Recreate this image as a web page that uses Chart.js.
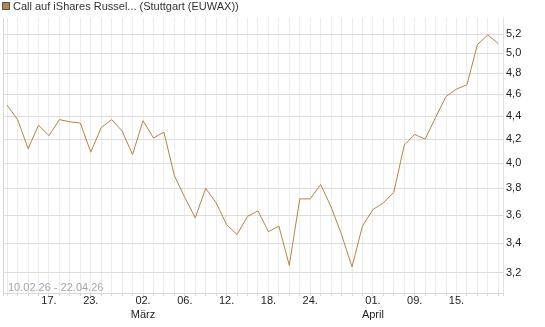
<!DOCTYPE html>
<html>
<head>
    <meta charset="UTF-8">
    <title>Call auf iShares Russel...</title>
    <script src="https://cdn.jsdelivr.net/npm/chart.js"></script>
    <style>
        body {
            margin: 0;
            background-color: #ffffff;
        }

        #chart-container {
            width: 545px;
            height: 327px;
        }
    </style>
</head>
<body>
<div id="chart-container">
    <canvas id="priceChart"></canvas>
</div>

<script>
        const chartTitle = 'Call auf iShares Russel... (Stuttgart (EUWAX))';
        const rangeText = '10.02.26 - 22.04.26';

        // Handelstage (Stuttgart, ohne Karfreitag / Ostermontag)
        const dates = [
            '11.02.', '12.02.', '13.02.', '16.02.', '17.02.', '18.02.', '19.02.', '20.02.',
            '23.02.', '24.02.', '25.02.', '26.02.', '27.02.', '02.03.', '03.03.', '04.03.',
            '05.03.', '06.03.', '09.03.', '10.03.', '11.03.', '12.03.', '13.03.', '16.03.',
            '17.03.', '18.03.', '19.03.', '20.03.', '23.03.', '24.03.', '25.03.', '26.03.',
            '27.03.', '30.03.', '31.03.', '01.04.', '02.04.', '07.04.', '08.04.', '09.04.',
            '10.04.', '13.04.', '14.04.', '15.04.', '16.04.', '17.04.', '20.04.', '21.04.'
        ];

        const prices = [
            4.50, 4.37, 4.12, 4.32, 4.23, 4.37, 4.35, 4.34,
            4.09, 4.30, 4.37, 4.27, 4.07, 4.36, 4.21, 4.26,
            3.90, 3.73, 3.58, 3.80, 3.69, 3.53, 3.46, 3.59,
            3.63, 3.48, 3.52, 3.25, 3.72, 3.72, 3.83, 3.66,
            3.46, 3.24, 3.52, 3.64, 3.69, 3.77, 4.15, 4.24,
            4.20, 4.39, 4.58, 4.65, 4.69, 5.09, 5.19, 5.10
        ];

        const labelledDates = ['17.02.', '23.02.', '02.03.', '06.03.', '12.03.', '18.03.', '24.03.', '01.04.', '09.04.', '15.04.'];
        const monthNames = { '03': 'März', '04': 'April' };
        const yTicks = [3.2, 3.4, 3.6, 3.8, 4.0, 4.2, 4.4, 4.6, 4.8, 5.0, 5.2];

        const lineColor = '#b5853f';
        const xMin = -0.4;
        const xMax = dates.length - 1 + 0.45;

        const headerPlugin = {
            id: 'header',
            beforeDatasetsDraw(chart) {
                const ctx = chart.ctx;
                const area = chart.chartArea;
                ctx.save();
                ctx.font = '11px "Liberation Sans", Arial, sans-serif';
                ctx.fillStyle = '#a2a7b0';
                ctx.textBaseline = 'alphabetic';
                ctx.fillText(rangeText, area.left + 5, area.bottom - 2);
                ctx.restore();
            },
            afterDraw(chart) {
                const ctx = chart.ctx;
                ctx.save();
                ctx.fillStyle = '#b38848';
                ctx.fillRect(2, 2, 8, 8);
                ctx.strokeStyle = '#555555';
                ctx.lineWidth = 1;
                ctx.strokeRect(2.5, 2.5, 7, 7);
                ctx.font = '11px "Liberation Sans", Arial, sans-serif';
                ctx.fillStyle = '#333333';
                ctx.textBaseline = 'middle';
                ctx.fillText(chartTitle, 13, 7);
                ctx.restore();
            }
        };

        // Label fuer einen Handelstag, Monatsname beim ersten Label im Monat
        const seenMonths = {};
        const tickLabels = dates.map(d => {
            if (!labelledDates.includes(d)) return '';
            const month = d.slice(3, 5);
            const day = d.slice(0, 3);
            if (monthNames[month] && !seenMonths[month]) {
                seenMonths[month] = true;
                return [day, monthNames[month]];
            }
            return day;
        });

        Chart.defaults.font.family = '"Liberation Sans", Arial, sans-serif';
        Chart.defaults.font.size = 11;

        const ctx = document.getElementById('priceChart').getContext('2d');
        new Chart(ctx, {
            type: 'line',
            data: {
                datasets: [{
                    label: chartTitle,
                    data: prices.map((p, i) => ({ x: i, y: p })),
                    borderColor: lineColor,
                    borderWidth: 1,
                    pointRadius: 0,
                    tension: 0,
                    fill: false
                }]
            },
            options: {
                responsive: true,
                maintainAspectRatio: false,
                animation: false,
                layout: {
                    padding: { top: 18, left: 3, right: 0, bottom: 0 }
                },
                scales: {
                    x: {
                        type: 'linear',
                        min: xMin,
                        max: xMax,
                        afterBuildTicks: scale => {
                            scale.ticks = [{ value: xMin }]
                                .concat(dates.map((d, i) => ({ value: i })))
                                .concat([{ value: xMax }]);
                        },
                        afterFit: scale => { scale.height = 34; },
                        ticks: {
                            autoSkip: false,
                            maxRotation: 0,
                            padding: -2,
                            color: '#222222',
                            font: { size: 11, lineHeight: 1.3 },
                            callback: value => Number.isInteger(value) ? tickLabels[value] : ''
                        },
                        grid: {
                            color: c => (c.tick && c.tick.value === xMin) ? '#d6d6d6' : '#ececec',
                            tickLength: 3,
                            tickColor: '#d6d6d6'
                        },
                        border: { color: '#d6d6d6' }
                    },
                    y: {
                        type: 'logarithmic',
                        position: 'right',
                        min: 3.0725,
                        max: 5.372,
                        afterBuildTicks: scale => {
                            scale.ticks = yTicks.map(v => ({ value: v }));
                        },
                        afterFit: scale => { scale.width = 42; },
                        ticks: {
                            padding: 3,
                            color: '#222222',
                            font: { size: 11 },
                            callback: value => Number(value).toFixed(1).replace('.', ',')
                        },
                        grid: {
                            color: '#dcdcdc',
                            drawTicks: false
                        },
                        border: { color: '#e2e2e2' }
                    }
                },
                plugins: {
                    legend: { display: false },
                    tooltip: { enabled: false }
                }
            },
            plugins: [headerPlugin]
        });
    </script>
</body>
</html>
